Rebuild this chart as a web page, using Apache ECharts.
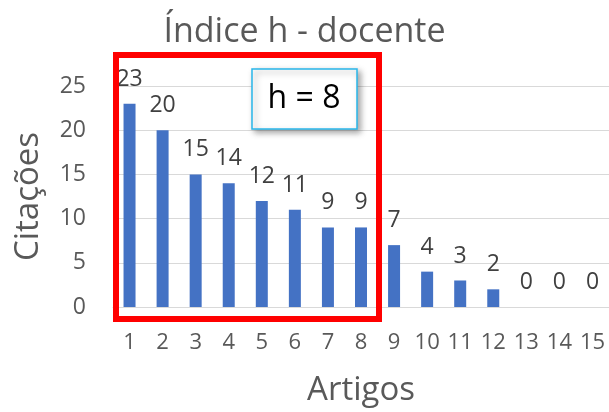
<!DOCTYPE html>
<html>
<head>
<meta charset="utf-8">
<script src="https://cdn.jsdelivr.net/npm/echarts@6/dist/echarts.min.js"></script>
<style>
  html, body { margin: 0; padding: 0; background: #fff; }
  #chart { width: 609px; height: 412px; }
</style>
</head>
<body>
<div id="chart"></div>
<script>
var artigos = ['1', '2', '3', '4', '5', '6', '7', '8', '9', '10', '11', '12', '13', '14', '15'];
var citacoes = [23, 20, 15, 14, 12, 11, 9, 9, 7, 4, 3, 2, 0, 0, 0];
var hIndex = 8;

var fontFam = '"Open Sans", sans-serif';
var myChart = echarts.init(document.getElementById('chart'));

myChart.setOption({
    backgroundColor: '#ffffff',
    animation: false,
    textStyle: { fontFamily: fontFam },
    title: {
        text: 'Índice h - docente',
        left: 'center',
        top: 10,
        textStyle: { fontFamily: fontFam, fontSize: 34, fontWeight: 'normal', color: '#595959' }
    },
    grid: { left: 113, right: -2, top: 86, bottom: 103 },
    xAxis: {
        type: 'category',
        data: artigos,
        name: 'Artigos',
        nameLocation: 'middle',
        nameGap: 67,
        nameTextStyle: { fontFamily: fontFam, fontSize: 33, color: '#595959' },
        axisLine: { lineStyle: { color: '#d9d9d9', width: 1 } },
        axisTick: { show: false },
        axisLabel: { interval: 0, hideOverlap: false, margin: 25, fontSize: 22, color: '#595959', fontFamily: fontFam }
    },
    yAxis: {
        type: 'value',
        min: 0,
        max: 25,
        interval: 5,
        name: 'Citações',
        nameLocation: 'middle',
        nameGap: 68,
        nameTextStyle: { fontFamily: fontFam, fontSize: 33, color: '#595959' },
        axisLine: { show: false },
        axisTick: { show: false },
        splitLine: { lineStyle: { color: '#d9d9d9', width: 1 } },
        axisLabel: { margin: 27, fontSize: 23, color: '#595959', fontFamily: fontFam }
    },
    series: [{
        type: 'bar',
        data: citacoes,
        barWidth: 12,
        itemStyle: { color: '#4472c4' },
        label: {
            show: true,
            position: 'top',
            distance: 13,
            fontSize: 23,
            color: '#404040',
            fontFamily: fontFam
        }
    }],
    graphic: [
        {
            // moldura vermelha em volta dos artigos do h
            type: 'rect',
            z: 100,
            shape: { x: 116, y: 55, width: 263, height: 264 },
            style: { fill: 'none', stroke: '#ff0000', lineWidth: 6 }
        },
        {
            type: 'rect',
            z: 101,
            shape: { x: 252, y: 69, width: 105, height: 60 },
            style: {
                fill: '#ffffff',
                stroke: '#29b6ea',
                lineWidth: 1.5,
                shadowBlur: 6,
                shadowOffsetX: 3,
                shadowOffsetY: 3,
                shadowColor: 'rgba(0,0,0,0.35)'
            }
        },
        {
            type: 'text',
            z: 102,
            x: 304,
            y: 99,
            style: {
                text: 'h = ' + hIndex,
                fontSize: 32,
                fontFamily: fontFam,
                fill: '#000000',
                align: 'center',
                verticalAlign: 'middle'
            }
        }
    ]
});
</script>
</body>
</html>
